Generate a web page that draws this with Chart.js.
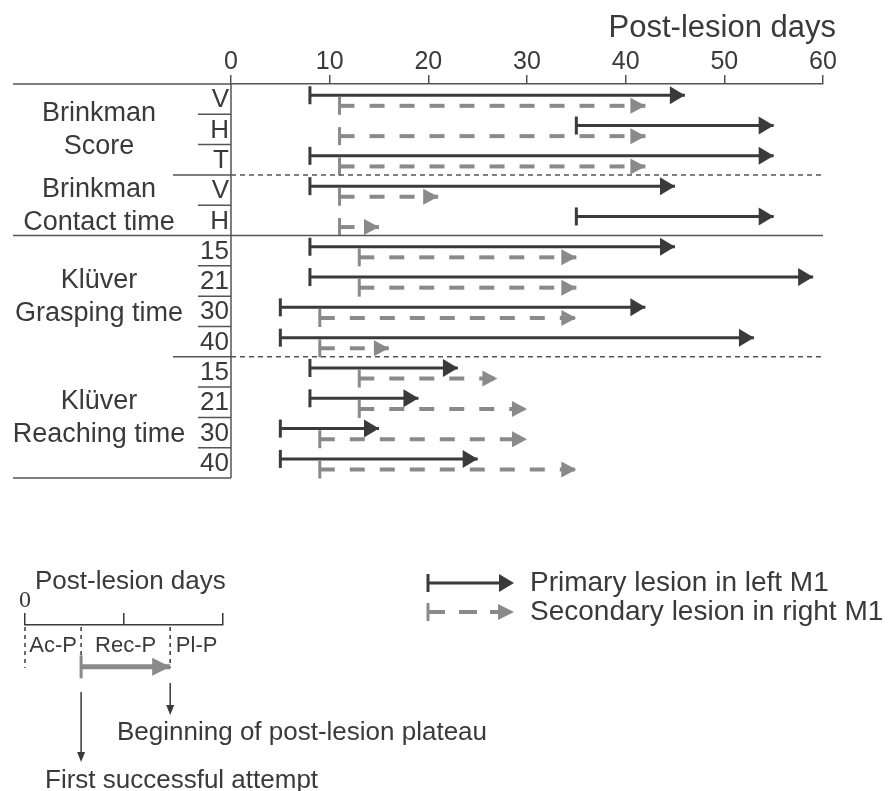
<!DOCTYPE html>
<html>
<head>
<meta charset="utf-8">
<script src="https://cdn.jsdelivr.net/npm/chart.js@4.4.1/dist/chart.umd.min.js"></script>
<style>
  body { margin: 0; background: #fff; }
  #wrap { position: relative; width: 893px; height: 791px; }
  #wrap canvas { position: absolute; left: 0; }
</style>
</head>
<body>
<div id="wrap">
  <canvas id="mainChart" width="893" height="791" style="top:0"></canvas>
  <canvas id="insetChart" width="893" height="231" style="top:560px"></canvas>
</div>
<script>
// rows of the table, top to bottom
const rowLabels = ['V', 'H', 'T', 'V', 'H', '15', '21', '30', '40', '15', '21', '30', '40'];
const groupLabels = [['Brinkman', 'Score'], ['Brinkman', 'Contact time'], ['Klüver', 'Grasping time'], ['Klüver', 'Reaching time']];
const groupRows = [[0, 3], [3, 5], [5, 9], [9, 13]];
const dayTicks = [0, 10, 20, 30, 40, 50, 60];

// [first successful attempt, beginning of plateau] in post-lesion days
const primaryLesion = [[8, 46], [35, 55], [8, 55], [8, 45], [35, 55], [8, 45], [8, 59], [5, 42], [5, 53], [8, 23], [8, 19], [5, 15], [5, 25]];
const secondaryLesion = [[11, 42], [11, 42], [11, 42], [11, 21], [11, 15], [13, 35], [13, 35], [9, 35], [9, 16], [13, 27], [13, 30], [9, 30], [9, 35]];

// schematic at the bottom
const insetTicks = [0, 30, 60];
const insetPhases = ['Ac-P', 'Rec-P', 'Pl-P'];
const insetBounds = [0, 17, 44, 60];

const DARK = '#3a3a3a';
const GREY = '#8a8a8a';
const LINE = '#555';
const FONT = "'Liberation Sans', Arial, sans-serif";

Chart.defaults.font.family = FONT;

function arrowHead(ctx, x, y, len, half, color) {
    ctx.fillStyle = color;
    ctx.beginPath();
    ctx.moveTo(x, y);
    ctx.lineTo(x - len, y - half);
    ctx.lineTo(x - len, y + half);
    ctx.closePath();
    ctx.fill();
}

function vTick(ctx, x, y, h, w, color) {
    ctx.strokeStyle = color;
    ctx.lineWidth = w;
    ctx.setLineDash([]);
    ctx.beginPath();
    ctx.moveTo(x, y - h / 2);
    ctx.lineTo(x, y + h / 2);
    ctx.stroke();
}

function hLine(ctx, x1, x2, y, dash) {
    ctx.strokeStyle = LINE;
    ctx.lineWidth = 1.5;
    ctx.setLineDash(dash || []);
    ctx.beginPath();
    ctx.moveTo(x1, y);
    ctx.lineTo(x2, y);
    ctx.stroke();
    ctx.setLineDash([]);
}

function barDatasets(pairs, offset, kind) {
    const primary = kind === 'primary';
    return pairs.map((p, i) => ({
        kind: kind,
        data: [{ x: p[0], y: i + offset }, { x: p[1], y: i + offset }],
        borderColor: primary ? DARK : GREY,
        borderWidth: primary ? 3 : 4,
        borderDash: primary ? [] : [15, 15],
        borderCapStyle: 'butt',
        pointRadius: 0,
        fill: false,
        tension: 0
    }));
}

// ticks at the start of each bar, heads at the end
const arrowPlugin = {
    id: 'arrows',
    afterDatasetsDraw(chart) {
        const ctx = chart.ctx;
        ctx.save();
        chart.data.datasets.forEach((ds, i) => {
            const pts = chart.getDatasetMeta(i).data;
            const color = ds.borderColor;
            vTick(ctx, pts[0].x, pts[0].y, 18, 3, color);
            arrowHead(ctx, pts[1].x, pts[1].y, 15, ds.kind === 'primary' ? 9 : 8, color);
        });
        ctx.restore();
    }
};

const tablePlugin = {
    id: 'table',
    afterDraw(chart) {
        const ctx = chart.ctx;
        const area = chart.chartArea;
        const y = chart.scales.y;
        ctx.save();

        // row separators
        for (let r = 0; r <= rowLabels.length; r++) {
            const py = y.getPixelForValue(r);
            if (r === 0) hLine(ctx, 13, area.left, py);
            else if (r === rowLabels.length) hLine(ctx, 13, area.left, py);
            else if (r === 5) hLine(ctx, 13, area.right, py);
            else if (r === 3 || r === 9) {
                hLine(ctx, 173, area.left, py);
                hLine(ctx, area.left, area.right, py, [5, 4]);
            } else hLine(ctx, 198, area.left, py);
        }
        // vertical axis at day 0
        ctx.strokeStyle = LINE;
        ctx.lineWidth = 1.5;
        ctx.beginPath();
        ctx.moveTo(area.left, area.top);
        ctx.lineTo(area.left, area.bottom);
        ctx.stroke();

        // row labels
        ctx.fillStyle = DARK;
        ctx.textBaseline = 'middle';
        ctx.textAlign = 'right';
        ctx.font = '26px ' + FONT;
        rowLabels.forEach((lab, r) => {
            ctx.fillText(lab, 229, y.getPixelForValue(r + 0.5) + 1);
        });

        // group labels
        ctx.textAlign = 'center';
        ctx.font = '27px ' + FONT;
        groupLabels.forEach((lines, g) => {
            const mid = (y.getPixelForValue(groupRows[g][0]) + y.getPixelForValue(groupRows[g][1])) / 2;
            ctx.fillText(lines[0], 99, mid - 16);
            ctx.fillText(lines[1], 99, mid + 17);
        });

        // axis title
        ctx.textAlign = 'right';
        ctx.font = '31px ' + FONT;
        ctx.fillText('Post-lesion days', 836, 28);

        // legend
        const lx = 428;
        ctx.font = '28px ' + FONT;
        ctx.textAlign = 'left';
        vTick(ctx, lx, 583, 18, 3, DARK);
        ctx.strokeStyle = DARK;
        ctx.lineWidth = 3;
        ctx.beginPath();
        ctx.moveTo(lx, 583);
        ctx.lineTo(500, 583);
        ctx.stroke();
        arrowHead(ctx, 514, 583, 15, 9, DARK);
        ctx.fillStyle = DARK;
        ctx.fillText('Primary lesion in left M1', 530, 583);

        vTick(ctx, lx, 612, 18, 3, GREY);
        ctx.strokeStyle = GREY;
        ctx.lineWidth = 4;
        [[lx, 445], [459, 477], [490, 500]].forEach(s => {
            ctx.beginPath();
            ctx.moveTo(s[0], 612);
            ctx.lineTo(s[1], 612);
            ctx.stroke();
        });
        arrowHead(ctx, 514, 612, 16, 8, GREY);
        ctx.fillStyle = DARK;
        ctx.fillText('Secondary lesion in right M1', 530, 612);

        ctx.restore();
    }
};

new Chart(document.getElementById('mainChart'), {
    type: 'line',
    data: {
        datasets: barDatasets(secondaryLesion, 0.72, 'secondary').concat(barDatasets(primaryLesion, 0.37, 'primary'))
    },
    options: {
        responsive: false,
        animation: false,
        layout: { padding: { left: 231, right: 70, top: 0, bottom: 313 } },
        plugins: { legend: { display: false }, tooltip: { enabled: false } },
        scales: {
            x: {
                type: 'linear',
                position: 'top',
                min: 0,
                max: 60,
                afterBuildTicks: s => { s.ticks = dayTicks.map(v => ({ value: v })); },
                afterFit: s => { s.height = 84; },
                grid: { drawOnChartArea: false, tickLength: 9, color: LINE, lineWidth: 1.5 },
                border: { display: true, color: LINE, width: 1.5 },
                ticks: { font: { size: 25, lineHeight: 1 }, color: DARK, padding: 0, maxRotation: 0 }
            },
            y: { type: 'linear', min: 0, max: rowLabels.length, reverse: true, display: false }
        }
    },
    plugins: [arrowPlugin, tablePlugin]
});

// ---- schematic of the phases ----
const insetPlugin = {
    id: 'insetNotes',
    afterDraw(chart) {
        const ctx = chart.ctx;
        const area = chart.chartArea;
        const x = chart.scales.x;
        ctx.save();
        ctx.fillStyle = DARK;
        ctx.textBaseline = 'middle';
        ctx.textAlign = 'left';
        ctx.font = '26px ' + FONT;
        ctx.fillText('Post-lesion days', 35, 22);

        // phase boundaries
        const bx = insetBounds.slice(0, 3).map(v => x.getPixelForValue(v));
        ctx.strokeStyle = DARK;
        ctx.lineWidth = 1.5;
        ctx.setLineDash([4, 4]);
        [[bx[0], 108], [bx[1], 95], [bx[2], 108]].forEach(b => {
            ctx.beginPath();
            ctx.moveTo(b[0], area.top + 2);
            ctx.lineTo(b[0], b[1]);
            ctx.stroke();
        });
        ctx.setLineDash([]);

        ctx.font = '22px ' + FONT;
        ctx.textAlign = 'center';
        insetPhases.forEach((p, i) => {
            const cx = (x.getPixelForValue(insetBounds[i]) + x.getPixelForValue(insetBounds[i + 1])) / 2;
            ctx.fillText(p, cx, 86);
        });

        // arrow start tick and head
        const pts = chart.getDatasetMeta(0).data;
        vTick(ctx, pts[0].x, pts[0].y, 23, 3, GREY);
        arrowHead(ctx, pts[1].x, pts[1].y, 18, 9, GREY);

        // pointers to the notes
        ctx.strokeStyle = DARK;
        ctx.lineWidth = 1.5;
        [[bx[1], 132, 202], [bx[2], 123, 155]].forEach(a => {
            ctx.beginPath();
            ctx.moveTo(a[0], a[1]);
            ctx.lineTo(a[0], a[2] - 8);
            ctx.stroke();
            ctx.fillStyle = DARK;
            ctx.beginPath();
            ctx.moveTo(a[0], a[2]);
            ctx.lineTo(a[0] - 4, a[2] - 10);
            ctx.lineTo(a[0] + 4, a[2] - 10);
            ctx.closePath();
            ctx.fill();
        });

        ctx.font = '26px ' + FONT;
        ctx.textAlign = 'left';
        ctx.fillText('Beginning of post-lesion plateau', 117, 173);
        ctx.fillText('First successful attempt', 45, 221);
        ctx.restore();
    }
};

new Chart(document.getElementById('insetChart'), {
    type: 'line',
    data: {
        datasets: [{
            data: [{ x: insetBounds[1], y: 0.76 }, { x: insetBounds[2], y: 0.76 }],
            borderColor: GREY,
            borderWidth: 5,
            borderCapStyle: 'butt',
            pointRadius: 0,
            fill: false
        }]
    },
    options: {
        responsive: false,
        animation: false,
        layout: { padding: { left: 25, right: 670, top: 0, bottom: 111 } },
        plugins: { legend: { display: false }, tooltip: { enabled: false } },
        scales: {
            x: {
                type: 'linear',
                position: 'top',
                min: 0,
                max: 60,
                afterBuildTicks: s => { s.ticks = insetTicks.map(v => ({ value: v })); },
                afterFit: s => { s.height = 65; },
                grid: { drawOnChartArea: false, tickLength: 12, color: DARK, lineWidth: 1.5 },
                border: { display: true, color: DARK, width: 1.5 },
                ticks: {
                    callback: v => (v === 0 ? '0' : ''),
                    font: { family: "'Liberation Serif', 'Times New Roman', serif", size: 24, lineHeight: 1 },
                    color: DARK,
                    padding: 0,
                    maxRotation: 0
                }
            },
            y: { type: 'linear', min: 0, max: 1, reverse: true, display: false }
        }
    },
    plugins: [insetPlugin]
});
</script>
</body>
</html>
